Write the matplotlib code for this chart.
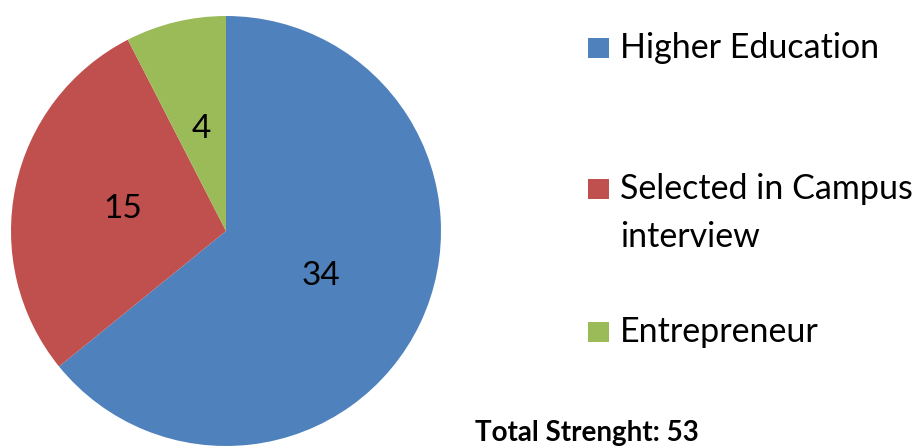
import matplotlib

matplotlib.use("Agg")
import matplotlib.pyplot as plt
from matplotlib.patches import Rectangle

categories = ["Higher Education", "Selected in Campus\ninterview", "Entrepreneur"]
values = [34, 15, 4]
colors = ["#4F81BD", "#C0504D", "#9BBB59"]
total_label = "Total Strenght: 53"

W, H = 923, 448
plt.rcParams["font.family"] = ["Lato", "DejaVu Sans"]

fig = plt.figure(figsize=(W / 100, H / 100), dpi=100)
fig.patch.set_facecolor("white")

# pie: centre ~(226, 231) px, radius ~215 px
ax = fig.add_axes([11 / W, 2 / H, 430 / W, 430 / H])
ax.pie(
    values,
    colors=colors,
    startangle=90,
    counterclock=False,
    autopct=lambda p: f"{round(p * sum(values) / 100)}",
    pctdistance=0.49,
    textprops={"fontsize": 24, "color": "black"},
    wedgeprops={"linewidth": 0},
)
ax.set_xlim(-1, 1)
ax.set_ylim(-1, 1)
ax.set_aspect("equal")
ax.axis("off")

# legend drawn by hand in pixel coords (baseline of first line)
bases = [58, 199, 342]
for cat, col, yb in zip(categories, colors, bases):
    fig.patches.append(
        Rectangle((588 / W, (H - yb) / H), 21 / W, 20 / H,
                  transform=fig.transFigure, facecolor=col, edgecolor="none")
    )
    for i, line in enumerate(cat.split("\n")):
        fig.text(620 / W, (H - yb - 48 * i) / H, line, fontsize=24.5,
                 va="baseline", ha="left", color="black")

fig.text(475 / W, (H - 441) / H, total_label, fontsize=20, fontweight="bold",
         va="baseline", ha="left", color="black")

fig.savefig("out.png", dpi=100)
